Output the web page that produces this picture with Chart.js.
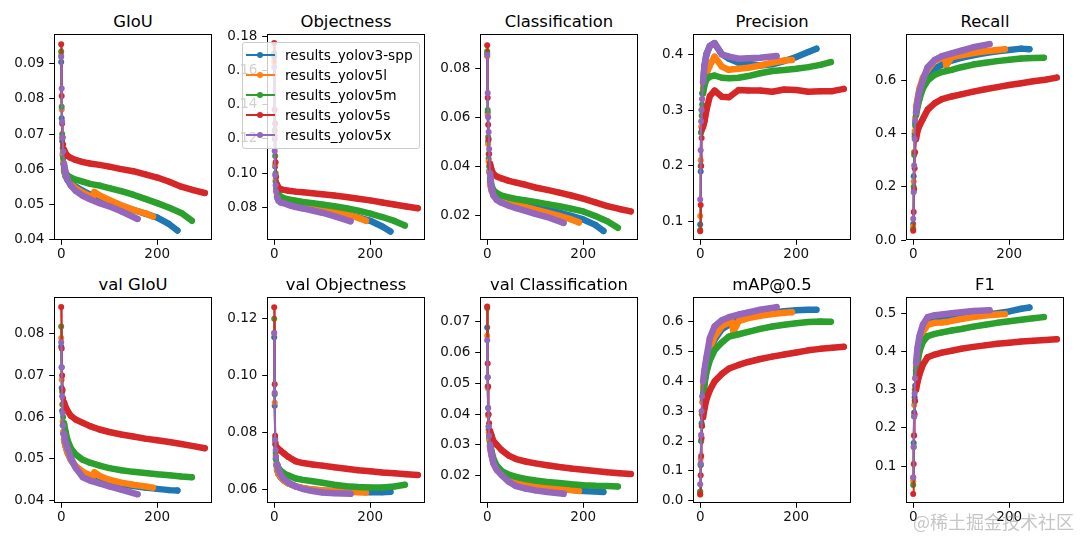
<!DOCTYPE html>
<html lang="en">

<head>
    <meta charset="UTF-8">
    <title>YOLO training results</title>
    <style>
        body {
            margin: 0;
            background: #ffffff;
            font-family: 'DejaVu Sans', sans-serif;
        }

        #page {
            position: relative;
            width: 1080px;
            height: 540px;
            overflow: hidden;
            background: #ffffff;
        }

        #page canvas {
            position: absolute;
        }

        .title {
            position: absolute;
            width: 158px;
            text-align: center;
            font-size: 16.4px;
            line-height: 18px;
            color: #000;
            white-space: nowrap;
        }

        .legend {
            position: absolute;
            left: 242px;
            top: 42px;
            width: 176px;
            height: 103px;
            padding-top: 2px;
            background: rgba(255, 255, 255, 0.8);
            border: 1px solid #cccccc;
            border-radius: 3px;
            font-size: 13.7px;
            color: #000;
            z-index: 5;
        }

        .legend .item {
            position: relative;
            height: 20px;
            line-height: 20px;
            padding-left: 42px;
            white-space: nowrap;
        }

        .legend .handle {
            position: absolute;
            left: 3px;
            top: 9px;
            width: 29px;
            height: 2px;
        }

        .legend .handle::after {
            content: '';
            position: absolute;
            left: 11px;
            top: -2px;
            width: 6px;
            height: 6px;
            border-radius: 50%;
            background: inherit;
        }

        .watermark {
            position: absolute;
            left: 913px;
            top: 508px;
            font-family: 'Noto Sans CJK SC', sans-serif;
            font-size: 18px;
            color: rgba(150, 150, 150, 0.55);
            white-space: nowrap;
            z-index: 6;
        }
    </style>
</head>

<body>
    <div id="page"></div>

    <script src="https://cdn.jsdelivr.net/npm/chart.js"></script>
    <script>
        // series names and matplotlib default colours
        const SERIES = ["results_yolov3-spp", "results_yolov5l", "results_yolov5m", "results_yolov5s", "results_yolov5x"];
        const COLORS = ["#1f77b4", "#ff7f0e", "#2ca02c", "#d62728", "#9467bd"];

        // epochs sampled for each run (runs have different lengths)
        const EP_V3 = [0, 1, 2, 3, 4, 6, 9, 13, 20, 30, 45, 60, 80, 100, 125, 150, 175, 200, 225, 242];
        const EP_V5L = [0, 1, 2, 3, 4, 6, 9, 13, 20, 30, 45, 60, 66, 69, 80, 100, 125, 150, 175, 191];
        const EP_V5M = [0, 1, 2, 3, 4, 6, 9, 13, 20, 30, 45, 60, 80, 100, 125, 150, 175, 200, 225, 250, 272];
        const EP_V5S = [0, 1, 2, 3, 4, 6, 9, 13, 20, 30, 45, 60, 80, 100, 125, 150, 175, 200, 225, 250, 275, 299];
        const EP_V5X = [0, 1, 2, 3, 4, 6, 9, 13, 20, 30, 45, 60, 80, 100, 125, 159];
        const EPOCHS = [EP_V3, EP_V5L, EP_V5M, EP_V5S, EP_V5X];

        // values per metric, one row per run in SERIES order
        const GIOU = [
            [0.0905, 0.0745, 0.0680, 0.0640, 0.0615, 0.0595, 0.0580, 0.0570, 0.0560, 0.0550, 0.0538, 0.0528, 0.0517, 0.0507, 0.0495, 0.0484, 0.0473, 0.0462, 0.0443, 0.0425],
            [0.0925, 0.0770, 0.0690, 0.0645, 0.0620, 0.0600, 0.0585, 0.0572, 0.0558, 0.0545, 0.0533, 0.0523, 0.0520, 0.0535, 0.0525, 0.0512, 0.0497, 0.0484, 0.0474, 0.0465],
            [0.0935, 0.0778, 0.0700, 0.0660, 0.0630, 0.0605, 0.0590, 0.0582, 0.0576, 0.0570, 0.0564, 0.0558, 0.0553, 0.0546, 0.0537, 0.0527, 0.0515, 0.0503, 0.0490, 0.0475, 0.0453],
            [0.0956, 0.0808, 0.0730, 0.0690, 0.0670, 0.0655, 0.0645, 0.0638, 0.0632, 0.0626, 0.0620, 0.0616, 0.0612, 0.0607, 0.0600, 0.0594, 0.0585, 0.0576, 0.0564, 0.0550, 0.0540, 0.0532],
            [0.0920, 0.0830, 0.0735, 0.0690, 0.0650, 0.0615, 0.0590, 0.0570, 0.0553, 0.0538, 0.0524, 0.0514, 0.0503, 0.0494, 0.0480, 0.0458]
        ];
        const OBJECTNESS = [
            [0.168, 0.120, 0.104, 0.095, 0.091, 0.0878, 0.0860, 0.0848, 0.0836, 0.0826, 0.0816, 0.0808, 0.0800, 0.0790, 0.0776, 0.0760, 0.0743, 0.0723, 0.0690, 0.0660],
            [0.165, 0.122, 0.105, 0.096, 0.092, 0.0885, 0.0865, 0.0850, 0.0838, 0.0828, 0.0818, 0.0810, 0.0809, 0.0808, 0.0805, 0.0795, 0.0778, 0.0760, 0.0740, 0.0723],
            [0.170, 0.125, 0.110, 0.100, 0.095, 0.0905, 0.0880, 0.0865, 0.0855, 0.0847, 0.0840, 0.0833, 0.0826, 0.0818, 0.0808, 0.0796, 0.0782, 0.0765, 0.0745, 0.0722, 0.0695],
            [0.176, 0.137, 0.129, 0.1065, 0.098, 0.0935, 0.0915, 0.0908, 0.0903, 0.0898, 0.0893, 0.0889, 0.0884, 0.0878, 0.0870, 0.0862, 0.0852, 0.0842, 0.0830, 0.0818, 0.0806, 0.0796],
            [0.162, 0.113, 0.099, 0.093, 0.0895, 0.0860, 0.0840, 0.0830, 0.0825, 0.0815, 0.0803, 0.0795, 0.0783, 0.0770, 0.0750, 0.0720]
        ];
        const CLASSIFICATION = [
            [0.0860, 0.0620, 0.0500, 0.0430, 0.0380, 0.0335, 0.0305, 0.0287, 0.0275, 0.0265, 0.0255, 0.0248, 0.0240, 0.0232, 0.0222, 0.0210, 0.0197, 0.0182, 0.0160, 0.0135],
            [0.0850, 0.0610, 0.0490, 0.0420, 0.0375, 0.0330, 0.0300, 0.0282, 0.0270, 0.0260, 0.0250, 0.0243, 0.0240, 0.0238, 0.0233, 0.0222, 0.0210, 0.0197, 0.0182, 0.0170],
            [0.0870, 0.0630, 0.0520, 0.0450, 0.0400, 0.0350, 0.0320, 0.0302, 0.0290, 0.0280, 0.0272, 0.0266, 0.0260, 0.0254, 0.0245, 0.0236, 0.0226, 0.0215, 0.0196, 0.0175, 0.0148],
            [0.0895, 0.0680, 0.0570, 0.0510, 0.0450, 0.0410, 0.0385, 0.0368, 0.0358, 0.0350, 0.0340, 0.0333, 0.0324, 0.0313, 0.0303, 0.0292, 0.0280, 0.0267, 0.0252, 0.0237, 0.0225, 0.0215],
            [0.0855, 0.0700, 0.0600, 0.0540, 0.0470, 0.0370, 0.0310, 0.0280, 0.0262, 0.0250, 0.0238, 0.0228, 0.0217, 0.0205, 0.0192, 0.0168]
        ];
        const PRECISION = [
            [0.095, 0.190, 0.260, 0.300, 0.330, 0.350, 0.380, 0.400, 0.415, 0.420, 0.400, 0.392, 0.385, 0.383, 0.380, 0.382, 0.388, 0.395, 0.404, 0.410],
            [0.110, 0.210, 0.270, 0.300, 0.320, 0.340, 0.355, 0.365, 0.380, 0.396, 0.378, 0.372, 0.373, 0.373, 0.374, 0.376, 0.380, 0.385, 0.389, 0.390],
            [0.085, 0.200, 0.260, 0.290, 0.310, 0.330, 0.345, 0.355, 0.360, 0.362, 0.358, 0.357, 0.358, 0.361, 0.366, 0.370, 0.372, 0.374, 0.377, 0.381, 0.386],
            [0.083, 0.130, 0.200, 0.250, 0.265, 0.270, 0.280, 0.300, 0.325, 0.335, 0.324, 0.323, 0.336, 0.335, 0.335, 0.333, 0.337, 0.336, 0.333, 0.334, 0.334, 0.338],
            [0.140, 0.228, 0.280, 0.300, 0.320, 0.350, 0.380, 0.400, 0.415, 0.420, 0.400, 0.396, 0.392, 0.393, 0.394, 0.397]
        ];
        const RECALL = [
            [0.060, 0.240, 0.330, 0.400, 0.440, 0.480, 0.520, 0.560, 0.595, 0.620, 0.645, 0.660, 0.675, 0.685, 0.695, 0.703, 0.710, 0.715, 0.720, 0.718],
            [0.050, 0.220, 0.330, 0.410, 0.460, 0.500, 0.530, 0.570, 0.610, 0.640, 0.675, 0.685, 0.688, 0.657, 0.688, 0.695, 0.703, 0.710, 0.715, 0.718],
            [0.040, 0.200, 0.320, 0.390, 0.430, 0.470, 0.500, 0.530, 0.570, 0.600, 0.622, 0.632, 0.640, 0.650, 0.660, 0.667, 0.673, 0.678, 0.683, 0.685, 0.686],
            [0.035, 0.105, 0.190, 0.270, 0.330, 0.380, 0.410, 0.430, 0.455, 0.490, 0.515, 0.530, 0.540, 0.548, 0.558, 0.567, 0.575, 0.583, 0.590, 0.597, 0.603, 0.611],
            [0.080, 0.180, 0.280, 0.380, 0.450, 0.480, 0.520, 0.560, 0.600, 0.650, 0.678, 0.692, 0.702, 0.712, 0.725, 0.737]
        ];
        const VAL_GIOU = [
            [0.0770, 0.0670, 0.0615, 0.0580, 0.0560, 0.0545, 0.0530, 0.0515, 0.0497, 0.0480, 0.0466, 0.0458, 0.0450, 0.0444, 0.0438, 0.0434, 0.0430, 0.0427, 0.0424, 0.0423],
            [0.0790, 0.0690, 0.0630, 0.0590, 0.0565, 0.0545, 0.0530, 0.0515, 0.0498, 0.0482, 0.0468, 0.0460, 0.0457, 0.0467, 0.0458, 0.0449, 0.0442, 0.0437, 0.0433, 0.0430],
            [0.0818, 0.0720, 0.0660, 0.0630, 0.0600, 0.0585, 0.0565, 0.0545, 0.0525, 0.0510, 0.0497, 0.0490, 0.0483, 0.0477, 0.0472, 0.0468, 0.0465, 0.0462, 0.0460, 0.0457, 0.0455],
            [0.0865, 0.0765, 0.0700, 0.0665, 0.0645, 0.0635, 0.0625, 0.0615, 0.0603, 0.0594, 0.0586, 0.0578, 0.0570, 0.0564, 0.0558, 0.0553, 0.0548, 0.0544, 0.0540, 0.0535, 0.0530, 0.0525],
            [0.0780, 0.0720, 0.0650, 0.0610, 0.0580, 0.0560, 0.0540, 0.0525, 0.0502, 0.0478, 0.0455, 0.0447, 0.0440, 0.0433, 0.0425, 0.0414]
        ];
        const VAL_OBJECTNESS = [
            [0.1135, 0.0895, 0.0760, 0.0710, 0.0685, 0.0670, 0.0655, 0.0645, 0.0633, 0.0622, 0.0612, 0.0606, 0.0601, 0.0598, 0.0596, 0.0594, 0.0593, 0.0592, 0.0592, 0.0593],
            [0.1150, 0.0905, 0.0770, 0.0720, 0.0690, 0.0672, 0.0657, 0.0646, 0.0633, 0.0622, 0.0612, 0.0606, 0.0605, 0.0604, 0.0601, 0.0598, 0.0595, 0.0593, 0.0592, 0.0591],
            [0.1200, 0.0935, 0.0780, 0.0730, 0.0705, 0.0690, 0.0677, 0.0668, 0.0658, 0.0650, 0.0640, 0.0635, 0.0630, 0.0625, 0.0618, 0.0613, 0.0610, 0.0608, 0.0608, 0.0612, 0.0618],
            [0.1240, 0.0970, 0.0790, 0.0765, 0.0755, 0.0748, 0.0743, 0.0738, 0.0728, 0.0715, 0.0700, 0.0694, 0.0689, 0.0685, 0.0679, 0.0674, 0.0669, 0.0665, 0.0661, 0.0658, 0.0655, 0.0652],
            [0.1150, 0.0940, 0.0775, 0.0740, 0.0715, 0.0690, 0.0670, 0.0655, 0.0638, 0.0625, 0.0612, 0.0603, 0.0596, 0.0591, 0.0588, 0.0586]
        ];
        const VAL_CLASSIFICATION = [
            [0.0682, 0.0490, 0.0400, 0.0350, 0.0320, 0.0295, 0.0270, 0.0245, 0.0222, 0.0205, 0.0192, 0.0183, 0.0175, 0.0168, 0.0163, 0.0158, 0.0154, 0.0150, 0.0148, 0.0147],
            [0.0655, 0.0485, 0.0395, 0.0340, 0.0315, 0.0290, 0.0265, 0.0240, 0.0220, 0.0203, 0.0190, 0.0181, 0.0179, 0.0178, 0.0174, 0.0168, 0.0162, 0.0157, 0.0153, 0.0150],
            [0.0745, 0.0520, 0.0420, 0.0360, 0.0330, 0.0305, 0.0280, 0.0255, 0.0232, 0.0215, 0.0203, 0.0196, 0.0189, 0.0184, 0.0179, 0.0176, 0.0172, 0.0169, 0.0167, 0.0166, 0.0165],
            [0.0750, 0.0565, 0.0490, 0.0400, 0.0370, 0.0345, 0.0330, 0.0312, 0.0300, 0.0283, 0.0265, 0.0254, 0.0246, 0.0240, 0.0234, 0.0228, 0.0223, 0.0219, 0.0215, 0.0211, 0.0208, 0.0205],
            [0.0640, 0.0520, 0.0420, 0.0360, 0.0330, 0.0300, 0.0270, 0.0240, 0.0218, 0.0202, 0.0180, 0.0166, 0.0158, 0.0152, 0.0147, 0.0141]
        ];
        const MAP50 = [
            [0.030, 0.120, 0.200, 0.260, 0.300, 0.350, 0.400, 0.450, 0.500, 0.540, 0.575, 0.590, 0.605, 0.615, 0.624, 0.630, 0.635, 0.638, 0.640, 0.640],
            [0.020, 0.140, 0.220, 0.290, 0.330, 0.380, 0.430, 0.470, 0.510, 0.550, 0.585, 0.597, 0.600, 0.565, 0.602, 0.612, 0.620, 0.626, 0.630, 0.632],
            [0.030, 0.120, 0.200, 0.250, 0.290, 0.340, 0.390, 0.430, 0.470, 0.505, 0.530, 0.550, 0.558, 0.566, 0.576, 0.584, 0.590, 0.595, 0.599, 0.601, 0.600],
            [0.022, 0.085, 0.150, 0.210, 0.250, 0.280, 0.310, 0.340, 0.370, 0.400, 0.425, 0.443, 0.455, 0.465, 0.475, 0.483, 0.490, 0.497, 0.504, 0.509, 0.513, 0.516],
            [0.055, 0.125, 0.220, 0.300, 0.350, 0.400, 0.440, 0.480, 0.545, 0.585, 0.605, 0.615, 0.624, 0.631, 0.640, 0.649]
        ];
        const F1 = [
            [0.070, 0.160, 0.240, 0.280, 0.310, 0.350, 0.390, 0.430, 0.460, 0.475, 0.483, 0.486, 0.490, 0.492, 0.495, 0.497, 0.500, 0.505, 0.512, 0.515],
            [0.060, 0.180, 0.260, 0.300, 0.330, 0.360, 0.390, 0.420, 0.450, 0.470, 0.475, 0.476, 0.477, 0.477, 0.480, 0.485, 0.490, 0.494, 0.497, 0.498],
            [0.050, 0.150, 0.230, 0.270, 0.300, 0.340, 0.370, 0.400, 0.425, 0.440, 0.446, 0.450, 0.455, 0.459, 0.465, 0.470, 0.475, 0.479, 0.483, 0.487, 0.490],
            [0.027, 0.105, 0.180, 0.235, 0.270, 0.300, 0.320, 0.340, 0.365, 0.385, 0.392, 0.397, 0.402, 0.407, 0.412, 0.416, 0.420, 0.423, 0.426, 0.428, 0.430, 0.432],
            [0.070, 0.150, 0.230, 0.290, 0.330, 0.370, 0.410, 0.440, 0.470, 0.490, 0.495, 0.497, 0.500, 0.503, 0.506, 0.508]
        ];

        // tick labels
        const X_TICKS = [0, 200];
        const X_RANGE = [-15, 314];

        const PANELS = [
            { title: "GIoU", values: GIOU, range: [0.0398, 0.0985], ticks: [0.04, 0.05, 0.06, 0.07, 0.08, 0.09], dec: 2 },
            { title: "Objectness", values: OBJECTNESS, range: [0.0611, 0.1812], ticks: [0.08, 0.10, 0.12, 0.14, 0.16, 0.18], dec: 2 },
            { title: "Classification", values: CLASSIFICATION, range: [0.0098, 0.0941], ticks: [0.02, 0.04, 0.06, 0.08], dec: 2 },
            { title: "Precision", values: PRECISION, range: [0.0672, 0.4364], ticks: [0.1, 0.2, 0.3, 0.4], dec: 1 },
            { title: "Recall", values: RECALL, range: [0.0, 0.775], ticks: [0.0, 0.2, 0.4, 0.6], dec: 1 },
            { title: "val GIoU", values: VAL_GIOU, range: [0.0393, 0.0889], ticks: [0.04, 0.05, 0.06, 0.07, 0.08], dec: 2 },
            { title: "val Objectness", values: VAL_OBJECTNESS, range: [0.0554, 0.1276], ticks: [0.06, 0.08, 0.10, 0.12], dec: 2 },
            { title: "val Classification", values: VAL_CLASSIFICATION, range: [0.0111, 0.0781], ticks: [0.02, 0.03, 0.04, 0.05, 0.06, 0.07], dec: 2 },
            { title: "mAP@0.5", values: MAP50, range: [-0.0077, 0.6828], ticks: [0.0, 0.1, 0.2, 0.3, 0.4, 0.5, 0.6], dec: 1 },
            { title: "F1", values: F1, range: [0.0031, 0.5427], ticks: [0.1, 0.2, 0.3, 0.4, 0.5], dec: 1 }
        ];

        // subplot grid (axes boxes in page pixels)
        const BOX_LEFT = [54, 267, 480, 693, 906];
        const BOX_TOP = [34, 297];
        const BOX_W = 158, BOX_H = 206;
        const PAD_L = 54, PAD_T = 34, PAD_R = 6, PAD_B = 30;

        const page = document.getElementById("page");
        const tickFont = { family: "'DejaVu Sans', sans-serif", size: 13.5 };

        // black frame around every axes box, drawn over the lines like matplotlib spines
        const framePlugin = {
            id: "frame",
            afterDraw(chart) {
                const a = chart.chartArea;
                const c = chart.ctx;
                c.save();
                c.strokeStyle = "#000";
                c.lineWidth = 1;
                c.strokeRect(Math.round(a.left) + 0.5, Math.round(a.top) + 0.5,
                    Math.round(a.right - a.left) - 1, Math.round(a.bottom - a.top) - 1);
                c.restore();
            }
        };

        PANELS.forEach((p, i) => {
            const col = i % 5, row = Math.floor(i / 5);
            const left = BOX_LEFT[col], top = BOX_TOP[row];

            const title = document.createElement("div");
            title.className = "title";
            title.textContent = p.title;
            title.style.left = left + "px";
            title.style.top = (top - 21.5) + "px";
            page.appendChild(title);

            const canvas = document.createElement("canvas");
            canvas.width = BOX_W + PAD_L + PAD_R;
            canvas.height = BOX_H + PAD_T + PAD_B;
            canvas.style.left = (left - PAD_L) + "px";
            canvas.style.top = (top - PAD_T) + "px";
            canvas.style.width = canvas.width + "px";
            canvas.style.height = canvas.height + "px";
            page.appendChild(canvas);

            new Chart(canvas, {
                type: "line",
                data: {
                    datasets: SERIES.map((name, s) => ({
                        label: name,
                        data: EPOCHS[s].map((x, k) => ({ x: x, y: p.values[s][k] })),
                        borderColor: COLORS[s],
                        backgroundColor: COLORS[s],
                        pointBackgroundColor: COLORS[s],
                        pointBorderWidth: 0,
                        pointRadius: 3,
                        pointHoverRadius: 3,
                        borderWidth: 2,
                        borderJoinStyle: "round",
                        borderCapStyle: "round",
                        // dense markers merge into a thick band once the curve flattens
                        segment: { borderWidth: ctx => ctx.p0.parsed.x >= 6 ? 6.5 : 2 },
                        tension: 0,
                        fill: false,
                        order: SERIES.length - s
                    }))
                },
                options: {
                    responsive: false,
                    animation: false,
                    events: [],
                    layout: { padding: { left: 0, top: PAD_T, right: PAD_R, bottom: 0 } },
                    plugins: { legend: { display: false }, tooltip: { enabled: false } },
                    scales: {
                        x: {
                            type: "linear",
                            min: X_RANGE[0],
                            max: X_RANGE[1],
                            afterBuildTicks: sc => { sc.ticks = X_TICKS.map(v => ({ value: v })); },
                            afterFit: sc => { sc.height = PAD_B; },
                            grid: { drawOnChartArea: false, drawTicks: true, tickLength: 4.8, color: "#000" },
                            border: { display: false },
                            ticks: { font: tickFont, color: "#111", padding: 1.5, maxRotation: 0, callback: v => String(v) }
                        },
                        y: {
                            type: "linear",
                            min: p.range[0],
                            max: p.range[1],
                            afterBuildTicks: sc => { sc.ticks = p.ticks.map(v => ({ value: v })); },
                            afterFit: sc => { sc.width = PAD_L; },
                            grid: { drawOnChartArea: false, drawTicks: true, tickLength: 4.8, color: "#000" },
                            border: { display: false },
                            ticks: { font: tickFont, color: "#111", padding: 4.8, callback: v => Number(v).toFixed(p.dec) }
                        }
                    }
                },
                plugins: [framePlugin]
            });
        });

        // legend sits inside the Objectness axes, like matplotlib's "best" location
        const legend = document.createElement("div");
        legend.className = "legend";
        SERIES.forEach((name, s) => {
            const item = document.createElement("div");
            item.className = "item";
            const handle = document.createElement("span");
            handle.className = "handle";
            handle.style.background = COLORS[s];
            item.appendChild(handle);
            item.appendChild(document.createTextNode(name));
            legend.appendChild(item);
        });
        page.appendChild(legend);

        const mark = document.createElement("div");
        mark.className = "watermark";
        mark.textContent = "@稀土掘金技术社区";
        page.appendChild(mark);
    </script>
</body>

</html>
